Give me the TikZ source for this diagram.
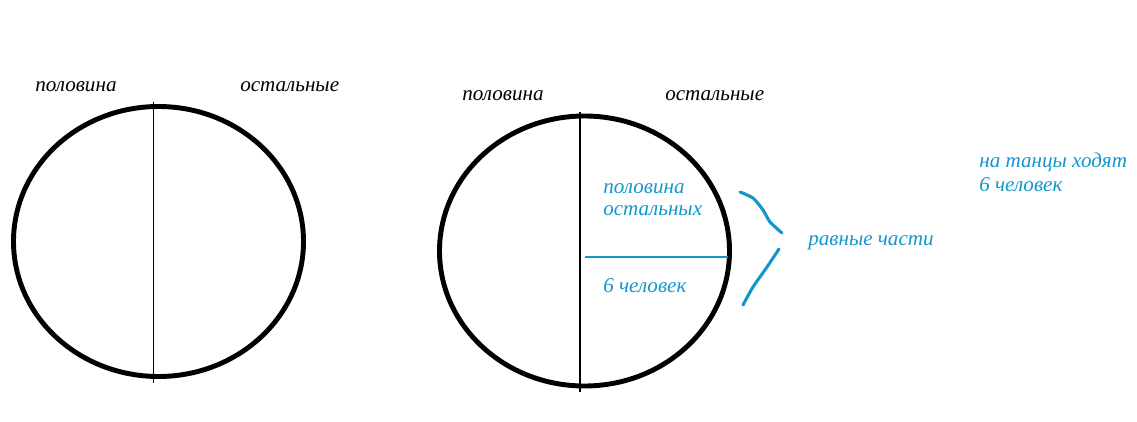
\documentclass[tikz,border=0pt]{standalone}
\usepackage{fontspec}
\setmainfont{Liberation Serif}
\usepackage{xcolor}
\usetikzlibrary{shapes.geometric, positioning, calc}
\definecolor{pencil}{RGB}{20,150,205}
\tikzset{
  bigcirc/.style={draw, ellipse, line width=3.5pt, inner sep=0pt,
    minimum width=290*0.025cm, minimum height=270*0.025cm},
  split/.style={line width=1.4pt},
  word/.style={font=\fontsize{15}{15.6}\selectfont\itshape, inner sep=0pt, anchor=base west},
  note/.style={word, text=pencil, align=left},
  stroke/.style={pencil, line width=2.2pt, line cap=round}
}
\begin{document}
\begin{tikzpicture}[x=0.025cm, y=-0.025cm]
    \useasboundingbox (0,0) rectangle (1137,421);

    % Cerchio sinistro
    \node[bigcirc] (left) at (158.5,241.5) {};
    \coordinate (ltop) at (153.5,102);
    \coordinate (lbot) at (153.5,382.5);
    \draw[split] (ltop) -- (lbot);
    \node[word] (lhalf) at (35,91) {половина};
    \node[word] (lrest) at (240,91) {остальные};

    % Cerchio destro
    \node[bigcirc] (right) at (584.5,251) {};
    \coordinate (rtop) at (580,112);
    \coordinate (rbot) at (580,392);
    \draw[split] (rtop) -- (rbot);
    \node[word] (rhalf) at (462,100) {половина};
    \node[word] (rrest) at (665,100) {остальные};

    % Divisione
    \coordinate (cutl) at (585,257);
    \coordinate (cutr) at (728,257);
    \draw[pencil, line width=0.8pt] (cutl) -- (cutr);
    \node[note] (halfrest) at (603,215) {половина\\остальных};
    \node[note] (six) at (603,292) {6 человек};

    % Parentesi
    \draw[stroke] plot [smooth, tension=0.4] coordinates {(740,192) (753,198) (763,210) (770,222) (782,233)};
    \draw[stroke] plot [smooth, tension=0.4] coordinates {(779,249) (767,267) (753,287) (743,305)};
    \node[note] (equal) at (808,245) {равные части};

    % Nota
    \node[note, font=\fontsize{15}{17}\selectfont\itshape] (dance) at (979,191) {на танцы ходят\\6 человек};
\end{tikzpicture}
\end{document}
